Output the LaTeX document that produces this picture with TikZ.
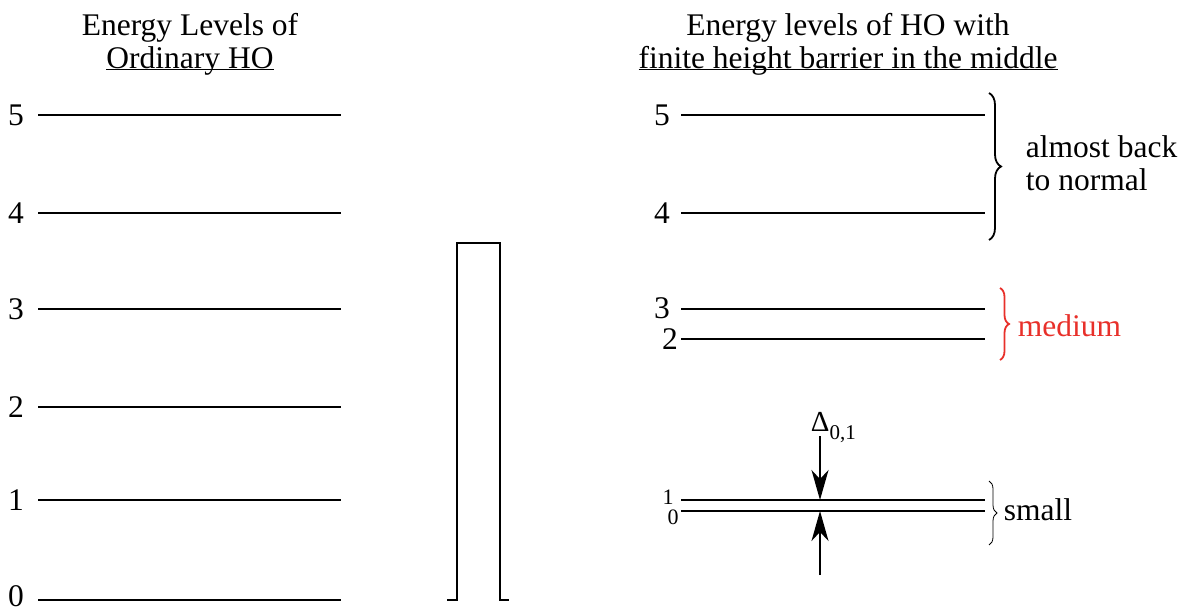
\documentclass[tikz,border=0pt]{standalone}
\usepackage{fontspec}
\setmainfont{Liberation Serif}
\usetikzlibrary{arrows.meta,decorations.pathreplacing}
\definecolor{medred}{RGB}{232,48,42}

\begin{document}
\begin{tikzpicture}[x=1pt, y=-1pt, line width=1.8pt,
  lab/.style={inner sep=0pt, font=\fontsize{31.5}{33}\selectfont},
  tinylab/.style={inner sep=0pt, font=\fontsize{22}{24}\selectfont},
  gaparrow/.style={-{Stealth[length=30pt,width=17pt,inset=9pt]}},
  brc/.style={decorate, decoration={brace, amplitude=#1}}]
\useasboundingbox (0,0) rectangle (1183,609);

% headings
\node[lab, align=center, anchor=north] (hleft) at (190,12) {Energy Levels of\\\underline{\smash{Ordinary HO}}};
\node[lab, align=center, anchor=north] (hright) at (848,12) {Energy levels of HO with\\\underline{\smash{finite height barrier in the middle}}};

% ordinary HO levels
\node[lab] (a5) at (16,115) {5};
\node[lab] (a4) at (16,213) {4};
\node[lab] (a3) at (16,309) {3};
\node[lab] (a2) at (16,407) {2};
\node[lab] (a1) at (16,500) {1};
\node[lab] (a0) at (16,596) {0};
\draw (38,115) -- (341,115);
\draw (38,213) -- (341,213);
\draw (38,309) -- (341,309);
\draw (38,407) -- (341,407);
\draw (38,500) -- (341,500);
\draw (38,600) -- (341,600);

% barrier
\draw[line width=1.6pt] (447,600) -- (457,600) -- (457,243) -- (500,243) -- (500,600) -- (509,600);

% HO with barrier
\node[lab] (b5) at (662,115) {5};
\node[lab] (b4) at (662,213) {4};
\node[lab] (b3) at (662,308) {3};
\node[lab] (b2) at (670,339) {2};
\node[tinylab] (b1) at (668,497) {1};
\node[tinylab] (b0) at (673,517) {0};
\draw (681,115) -- (985,115);
\draw (681,213) -- (985,213);
\draw (681,309) -- (985,309);
\draw (681,339) -- (985,339);
\draw (681,500) -- (985,500);
\draw (681,511) -- (985,511);

% splitting
\node[inner sep=0pt, anchor=base west, font=\fontsize{29}{30}\selectfont] (delta) at (810,431) {Δ\raisebox{-8pt}{\fontsize{21}{21}\selectfont 0,1}};
\coordinate (dtop) at (820,436);
\coordinate (d1) at (820,500);
\coordinate (dbot) at (820,575);
\coordinate (d0) at (820,511);
\draw[gaparrow] (dtop) -- (d1);
\draw[gaparrow] (dbot) -- (d0);

% braces
\draw[brc=12pt] (989,93) -- (989,240);
\node[lab, align=left, anchor=west] (normal) at (1025,163) {almost back\\to normal};
\draw[brc=9pt, medred] (1000,288) -- (1000,360);
\node[lab, anchor=west, text=medred] (medium) at (1017,326) {medium};
\draw[brc=8pt, line width=0.8pt] (989,481) -- (989,545);
\node[lab, anchor=west] (small) at (1003,510) {small};

\end{tikzpicture}
\end{document}
